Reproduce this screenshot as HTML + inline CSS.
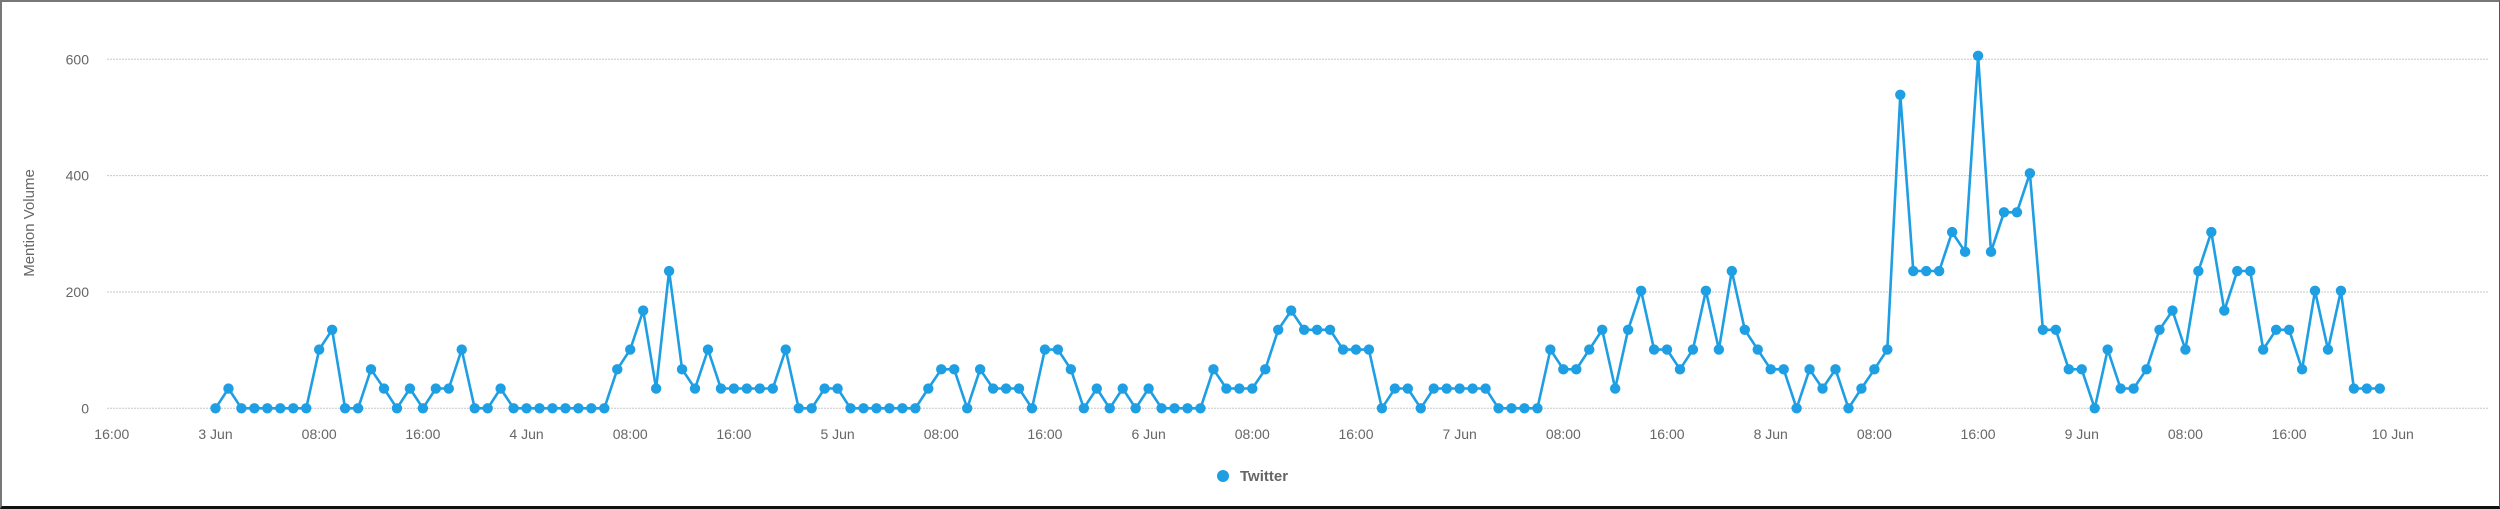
<!DOCTYPE html>
<html><head><meta charset="utf-8"><style>
html,body{margin:0;padding:0;background:#fff;}
#wrap{position:relative;width:2500px;height:509px;box-sizing:border-box;border:2px solid #777;border-bottom:3px solid #111;border-right:1px solid #555;overflow:hidden;}
svg{position:absolute;left:0;top:0;}
text{font-family:"Liberation Sans",sans-serif;}
</style></head><body>
<div id="wrap">
<svg id="chart" width="2500" height="509"></svg>
</div>
<script>
const yTicks=[0,200,400,600];
const xTickLabels=["16:00","3 Jun","08:00","16:00","4 Jun","08:00","16:00","5 Jun","08:00","16:00","6 Jun","08:00","16:00","7 Jun","08:00","16:00","8 Jun","08:00","16:00","9 Jun","08:00","16:00","10 Jun"];
const xTickHours=[-8,0,8,16,24,32,40,48,56,64,72,80,88,96,104,112,120,128,136,144,152,160,168];
const seriesName="Twitter";
const twitter=[
0,34,0,0,0,0,0,0,101,135,0,0,67,34,0,34,0,34,34,101,0,0,34,0,
0,0,0,0,0,0,0,67,101,168,34,236,67,34,101,34,34,34,34,34,101,0,0,34,
34,0,0,0,0,0,0,34,67,67,0,67,34,34,34,0,101,101,67,0,34,0,34,0,
34,0,0,0,0,67,34,34,34,67,135,168,135,135,135,101,101,101,0,34,34,0,34,34,
34,34,34,0,0,0,0,101,67,67,101,135,34,135,202,101,101,67,101,202,101,236,135,101,
67,67,0,67,34,67,0,34,67,101,539,236,236,236,303,269,606,269,337,337,404,135,135,67,
67,0,101,34,34,67,135,168,101,236,303,168,236,236,101,135,135,67,202,101,202,34,34,34];
const NS="http://www.w3.org/2000/svg";
const svg=document.getElementById('chart');
const X0=213.5,HW=12.96,Y0=406.3,YS=(406.3-57.3)/600;
const xs=h=>X0+h*HW, ys=v=>Y0-v*YS;
function mk(t,a,p){const e=document.createElementNS(NS,t);for(const k in a)e.setAttribute(k,a[k]);(p||svg).appendChild(e);return e;}
for(const t of yTicks){
  const g=mk('line',{x1:105,x2:2486,y1:ys(t),y2:ys(t),stroke:'#c8c8c8','stroke-width':1,'stroke-dasharray':'2,1'});
  
  
  const l=mk('text',{x:87,y:ys(t)+5,'text-anchor':'end','font-size':14,fill:'#666'});
  l.textContent=t;
  
  
}
xTickLabels.forEach((s,i)=>{
  const l=mk('text',{x:xs(xTickHours[i]),y:437,'text-anchor':'middle','font-size':14,fill:'#666'});
  l.textContent=s;
  
  
});
const yt=mk('text',{x:0,y:0,transform:'translate(32,221) rotate(-90)','text-anchor':'middle','font-size':15,fill:'#666'});
yt.textContent='Mention Volume';


const pts=twitter.map((v,i)=>xs(i).toFixed(1)+','+ys(v).toFixed(1)).join(' ');
const line=mk('polyline',{points:pts,fill:'none',stroke:'#1e9ee3','stroke-width':2.6,'stroke-linejoin':'round'});


twitter.forEach((v,i)=>{
  const c=mk('circle',{cx:xs(i),cy:ys(v),r:5.2,fill:'#1e9ee3'});
  
  
});
const lg=mk('g',{});


mk('circle',{cx:1221,cy:474,r:6,fill:'#1e9ee3'},lg);
const lt=mk('text',{x:1238,y:479,'font-size':15,'font-weight':'bold',fill:'#666'},lg);
lt.textContent=seriesName;
</script>
</body></html>
